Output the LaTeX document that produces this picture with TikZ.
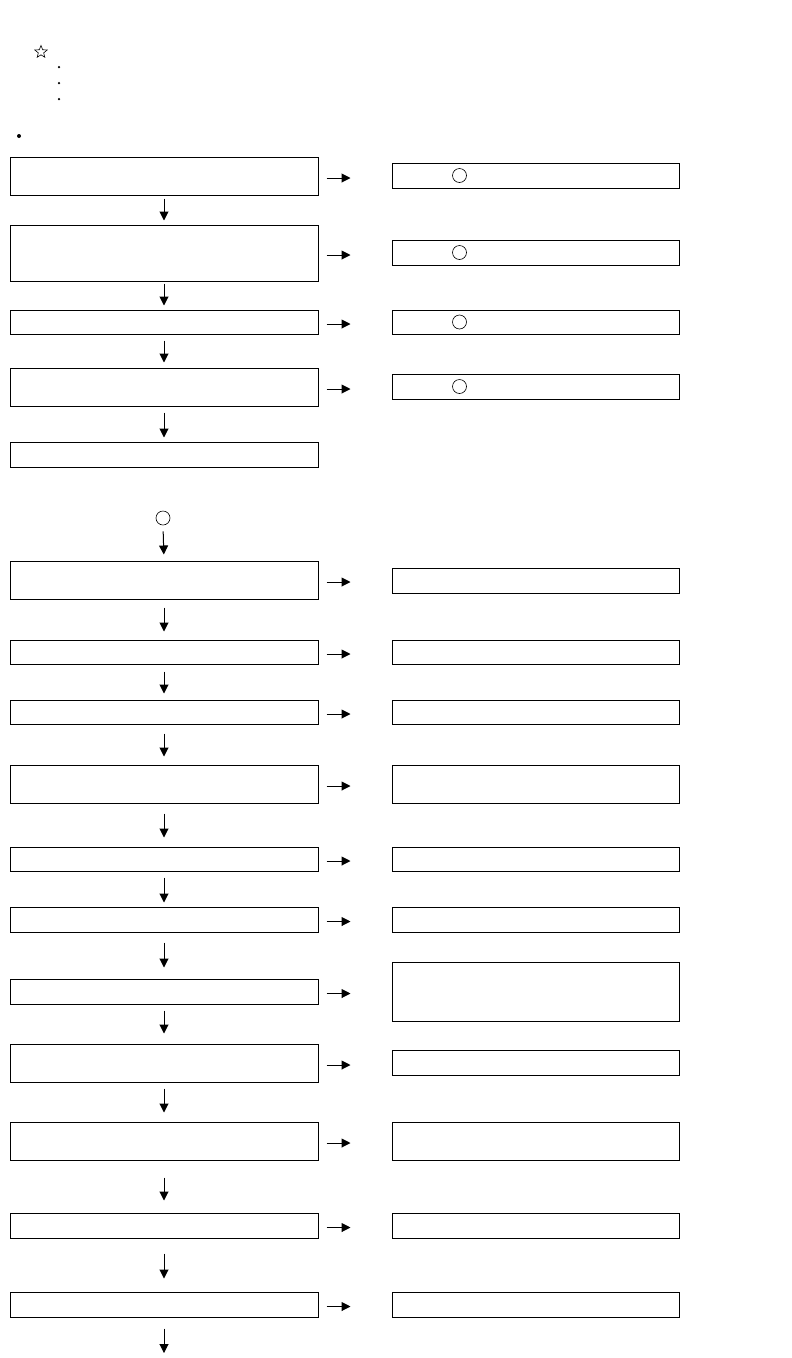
\documentclass[tikz,border=0pt]{standalone}
\usetikzlibrary{arrows.meta,shapes.geometric}
\begin{document}
\begin{tikzpicture}[x=1pt,y=-1pt,
  lbox/.style={draw,line width=1pt,inner sep=0pt,minimum width=308pt},
  rbox/.style={draw,line width=1pt,inner sep=0pt,minimum width=287pt},
  ring/.style={circle,draw,line width=0.6pt,inner sep=0pt,minimum size=14pt},
  dotnode/.style={circle,fill,inner sep=0pt,minimum size=#1},
  arr/.style={line width=1pt,-{Triangle[length=9pt,width=9pt]}}]
\useasboundingbox (0,0) rectangle (792,1358);

% heading marks
\node[star,star points=5,star point ratio=2.3,draw,line width=0.6pt,inner sep=0pt,minimum size=13pt] (S) at (41,52) {};
\foreach \i/\y in {1/67,2/83,3/99}
  \node[dotnode=2.5pt] (D\i) at (59,\y) {};
\node[dotnode=4pt] (B) at (19,136) {};

% left column
\foreach \n/\y/\h in {1/176/38, 2/253/56, 3/322/24, 4/387/38, 5/454.5/25,
    6/580/38, 7/652/24, 8/712/24, 9/784/38, 10/859/24, 11/919.5/25,
    12/991.5/25, 13/1063/38, 14/1141/38, 15/1225.5/25, 16/1304.5/25}
  \node[lbox,minimum height=\h pt] (L\n) at (164,\y) {};

% right column
\foreach \n/\y/\h in {1/175.5/25, 2/252.5/25, 3/322/24, 4/386.5/25,
    6/580.5/25, 7/652/24, 8/712/24, 9/784/38, 10/859/24, 11/919.5/25,
    12/991.5/59, 13/1062.5/25, 14/1141/38, 15/1225.5/25, 16/1304.5/25}
  \node[rbox,minimum height=\h pt] (R\n) at (535.5,\y) {};

% circles in the right boxes
\foreach \n in {1,2,3,4}
  \node[ring] (K\n) at ([xshift=68pt]R\n.west) {};

\node[ring] (C) at (163,518) {};
\coordinate (end) at (164,1353);

% arrows to the right
\foreach \n in {1,2,3,4,6,7,8,9,10,11,12,13,14,15,16}
  \draw[arr,shorten <=8pt,shorten >=41pt] ([yshift=-2pt]L\n.east) -- ([yshift=-2pt]L\n.east -| R\n.west);

% arrows down
\foreach \a/\b/\s/\e in {L1/L2/3/4, L2/L3/2/4, L3/L4/6/5, L4/L5/6/4,
    C/L6/6/6, L6/L7/8/8, L7/L8/7/6, L8/L9/9/8, L9/L10/10/9, L10/L11/6/4,
    L11/L12/10/11, L12/L13/6/10, L13/L14/6/9, L14/L15/17/12, L15/L16/15/13}
  \draw[arr,shorten <=\s pt,shorten >=\e pt] (\a.south) -- (\b.north);
\draw[arr,shorten <=11pt] (L16.south) -- (end);
\end{tikzpicture}
\end{document}
